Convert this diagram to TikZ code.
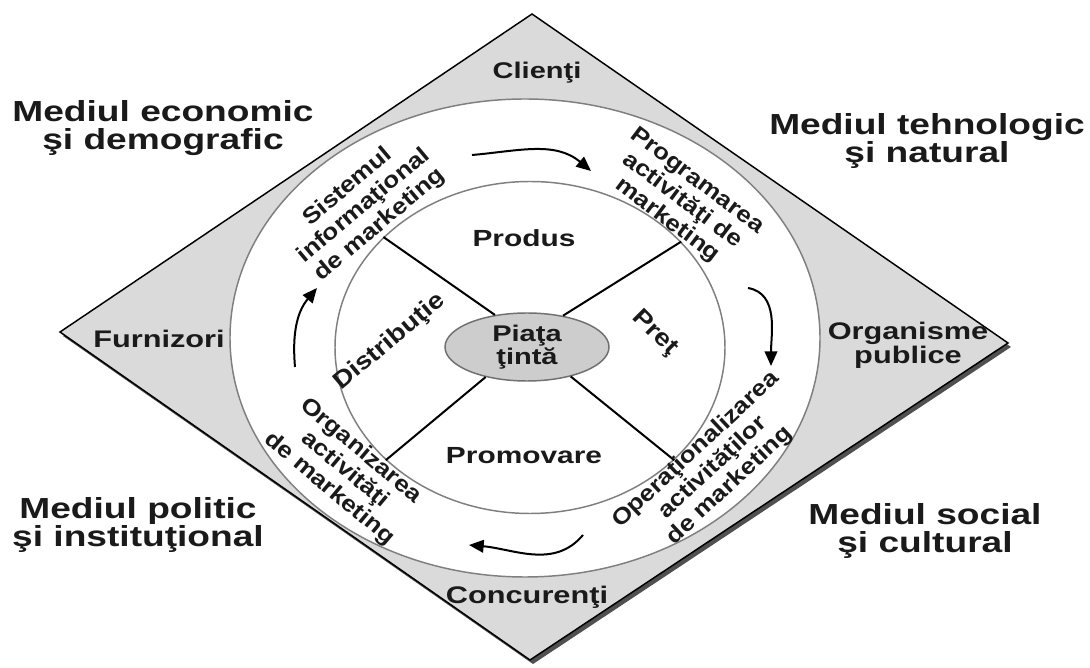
\documentclass[tikz,border=0pt]{standalone}
\usepackage{fontspec}
\usetikzlibrary{shapes.geometric,arrows.meta}
\newfontfamily\flatfont{Liberation Sans}[FakeStretch=1.28]
\newfontfamily\tiltfont{Liberation Sans}[FakeStretch=1.15]
\definecolor{ink}{HTML}{1A1A1A}
\definecolor{plate}{HTML}{DADADA}
\definecolor{plateshadow}{HTML}{505050}
\definecolor{ringline}{HTML}{7F7F7F}
\definecolor{hubfill}{HTML}{CDCDCD}
\definecolor{hubline}{HTML}{707070}
\begin{document}
\begin{tikzpicture}[x=0.75pt,y=0.75pt,
  txt/.style={text=ink,align=center,inner sep=0pt},
  envtxt/.style={txt,font=\flatfont\bfseries\fontsize{21.75pt}{20.5pt}\selectfont},
  sidetxt/.style={txt,font=\flatfont\bfseries\fontsize{18pt}{16.5pt}\selectfont},
  mixtxt/.style={txt,font=\flatfont\bfseries\fontsize{17.5pt}{16pt}\selectfont},
  hubtxt/.style={txt,font=\flatfont\bfseries\fontsize{17pt}{15.75pt}\selectfont},
  ringtxt/.style={txt,font=\tiltfont\bfseries\fontsize{17pt}{18.5pt}\selectfont},
  tilttxt/.style={txt,font=\tiltfont\bfseries\fontsize{18pt}{18pt}\selectfont},
  oval/.style={ellipse,inner sep=0pt,line width=1.1pt},
  spoke/.style={draw=black,line width=1.5pt},
  flow/.style={draw=black,line width=1.5pt,-{Triangle[length=11pt,width=9.5pt]}}]
\useasboundingbox (0,0) rectangle (1090,668);
\fill[white] (0,0) rectangle (1090,668);

% outer environment plate with its drop shadow
\fill[plateshadow] (535,650) -- (1011,321) -- (533,4) -- (63,332) -- cycle;
\filldraw[fill=plate,draw=black,line width=1.1pt]
  (532,654) -- (1008,325) -- (530,8) -- (60,336) -- cycle;

% rings and target market
\node[oval,draw=ringline,fill=white,minimum width=442.5pt,minimum height=358.5pt] (outer) at (525,330) {};
\node[oval,draw=ringline,fill=white,minimum width=292.5pt,minimum height=249pt] (inner) at (530,320.5) {};
\node[oval,draw=hubline,fill=hubfill,minimum width=123pt,minimum height=51pt] (hub) at (527,321) {};
\node[hubtxt] (hublbl) at (527,321) {Piaţa\\ţintă};

% marketing mix spokes
\draw[spoke] (hub.135) -- (inner.143.8);
\draw[spoke] (hub.41.6) -- (inner.35.2);
\draw[spoke] (hub.216) -- (inner.218.2);
\draw[spoke] (hub.326) -- (inner.322.6);

% marketing mix labels
\node[mixtxt] (produs) at (524,430) {Produs};
\node[mixtxt] (promo) at (524,212) {Promovare};
\node[tilttxt,rotate=40] (distrib) at (390,326) {Distribuţie};
\node[tilttxt,rotate=-45] (pret) at (655,335) {Preţ};

% management activities in the ring
\node[ringtxt,rotate=40] (sim) at (364,462) {Sistemul\\informaţional\\de marketing};
\node[ringtxt,rotate=-37] (prog) at (682,467) {Programarea\\activităţi de\\marketing};
\node[ringtxt,rotate=-40] (org) at (345,198) {Organizarea\\activităţi\\de marketing};
\node[ringtxt,rotate=43] (oper) at (713,200) {Operaţionalizarea\\activităţilor\\de marketing};

% cycle arrows
\coordinate (a1s) at (472,513); \coordinate (a1e) at (591,497);
\coordinate (a2s) at (748,380); \coordinate (a2e) at (771,302);
\coordinate (a3s) at (583,133); \coordinate (a3e) at (469,123);
\coordinate (a4s) at (295,301); \coordinate (a4e) at (317,380);
\draw[flow] (a1s) to[out=5,in=140] (a1e);
\draw[flow] (a2s) to[out=-10,in=90] (a2e);
\draw[flow] (a3s) to[out=230,in=-5] (a3e);
\draw[flow] (a4s) to[out=95,in=230] (a4e);

% actors of the micro-environment
\node[sidetxt,font=\flatfont\bfseries\fontsize{17pt}{16pt}\selectfont] (clienti) at (537,595) {Clienţi};
\node[sidetxt] (concur) at (527,71) {Concurenţi};
\node[sidetxt] (furn) at (159,329) {Furnizori};
\node[sidetxt] (organ) at (908,323) {Organisme\\publice};

% macro-environment
\node[envtxt] (econ) at (163,540) {Mediul economic\\şi demografic};
\node[envtxt] (tehn) at (927,527) {Mediul tehnologic\\şi natural};
\node[envtxt] (polit) at (138,143) {Mediul politic\\şi instituţional};
\node[envtxt] (social) at (925,137) {Mediul social\\şi cultural};
\end{tikzpicture}
\end{document}
